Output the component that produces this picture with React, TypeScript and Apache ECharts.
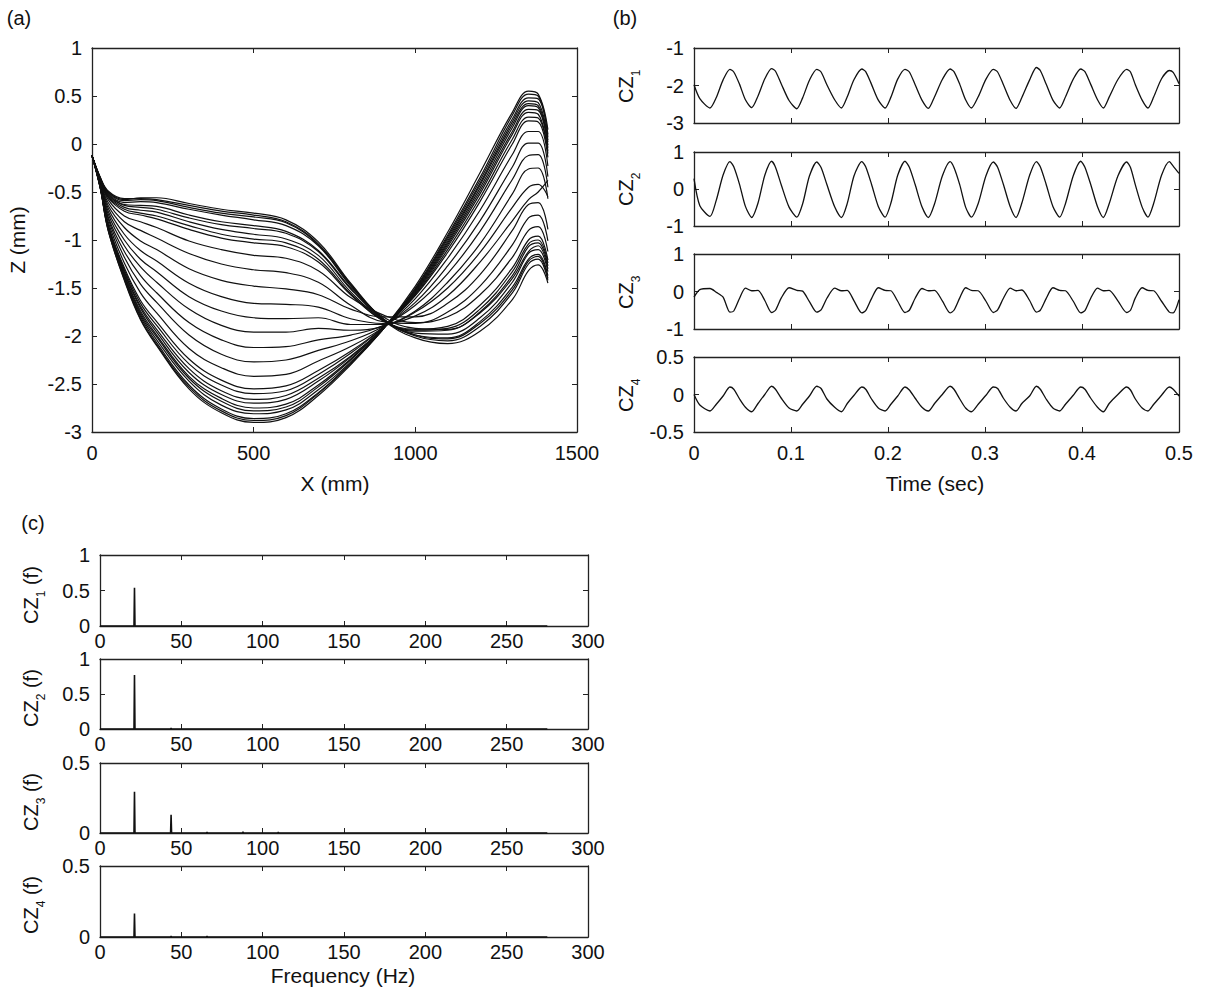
import React, { useEffect, useRef } from "react";
import * as echarts from "echarts";

const FONT = "'Liberation Sans', Arial, Helvetica, sans-serif";
const INK = "#111111";
const AXIS = "#222222";

// ---------- Panel (a): profile curves Z (mm) vs X (mm) ----------
const profileX = [0, 25, 50, 100, 150, 200, 300, 400, 500, 600, 700, 800, 900, 1000, 1100, 1200, 1300, 1350, 1380, 1410];
const profileZ: number[][] = [
  [-0.12, -0.35, -0.50, -0.58, -0.56, -0.56, -0.62, -0.68, -0.72, -0.79, -1.02, -1.45, -1.82, -2.00, -2.05, -1.90, -1.55, -1.25, -1.20, -1.42],
  [-0.12, -0.34, -0.49, -0.57, -0.57, -0.58, -0.64, -0.70, -0.74, -0.81, -1.04, -1.46, -1.83, -2.02, -2.08, -1.95, -1.62, -1.32, -1.26, -1.45],
  [-0.12, -0.35, -0.50, -0.59, -0.58, -0.59, -0.66, -0.72, -0.76, -0.82, -1.05, -1.47, -1.82, -1.99, -2.03, -1.87, -1.52, -1.22, -1.17, -1.40],
  [-0.12, -0.35, -0.51, -0.61, -0.60, -0.61, -0.68, -0.74, -0.79, -0.85, -1.06, -1.48, -1.82, -1.99, -2.02, -1.85, -1.49, -1.20, -1.15, -1.37],
  [-0.12, -0.36, -0.52, -0.63, -0.64, -0.65, -0.74, -0.81, -0.85, -0.91, -1.11, -1.50, -1.83, -1.97, -1.98, -1.81, -1.44, -1.14, -1.10, -1.33],
  [-0.12, -0.36, -0.53, -0.64, -0.66, -0.68, -0.77, -0.84, -0.88, -0.93, -1.12, -1.51, -1.80, -1.92, -1.93, -1.76, -1.40, -1.12, -1.06, -1.30],
  [-0.12, -0.36, -0.54, -0.66, -0.69, -0.71, -0.81, -0.89, -0.94, -0.99, -1.16, -1.54, -1.83, -1.95, -1.94, -1.75, -1.37, -1.07, -1.03, -1.27],
  [-0.12, -0.36, -0.55, -0.68, -0.72, -0.75, -0.85, -0.94, -0.99, -1.03, -1.20, -1.56, -1.84, -1.94, -1.92, -1.72, -1.33, -1.04, -1.00, -1.24],
  [-0.12, -0.36, -0.56, -0.70, -0.74, -0.78, -0.89, -0.98, -1.03, -1.07, -1.23, -1.57, -1.84, -1.93, -1.90, -1.68, -1.29, -1.00, -0.96, -1.21],
  [-0.12, -0.37, -0.58, -0.75, -0.81, -0.87, -1.01, -1.10, -1.16, -1.19, -1.32, -1.60, -1.78, -1.86, -1.80, -1.57, -1.18, -0.90, -0.86, -1.12],
  [-0.12, -0.38, -0.61, -0.81, -0.90, -0.98, -1.14, -1.25, -1.31, -1.34, -1.44, -1.68, -1.85, -1.87, -1.75, -1.48, -1.05, -0.77, -0.74, -1.01],
  [-0.12, -0.39, -0.64, -0.87, -1.01, -1.10, -1.30, -1.42, -1.48, -1.51, -1.57, -1.72, -1.80, -1.80, -1.66, -1.36, -0.90, -0.63, -0.61, -0.89],
  [-0.12, -0.39, -0.67, -0.94, -1.11, -1.22, -1.45, -1.59, -1.66, -1.67, -1.70, -1.82, -1.87, -1.79, -1.58, -1.23, -0.80, -0.58, -0.50, -0.38],
  [-0.12, -0.40, -0.70, -1.00, -1.20, -1.33, -1.59, -1.74, -1.81, -1.82, -1.81, -1.88, -1.88, -1.75, -1.50, -1.13, -0.66, -0.45, -0.42, -0.55],
  [-0.12, -0.41, -0.73, -1.06, -1.28, -1.44, -1.72, -1.89, -1.96, -1.96, -1.92, -1.94, -1.90, -1.74, -1.44, -1.04, -0.52, -0.26, -0.25, -0.57],
  [-0.12, -0.41, -0.76, -1.12, -1.37, -1.55, -1.86, -2.04, -2.12, -2.11, -2.04, -1.99, -1.89, -1.68, -1.35, -0.91, -0.37, -0.12, -0.11, -0.45],
  [-0.12, -0.42, -0.78, -1.18, -1.46, -1.65, -1.99, -2.19, -2.27, -2.25, -2.15, -2.05, -1.90, -1.65, -1.27, -0.80, -0.24, 0.01, 0.01, -0.34],
  [-0.12, -0.43, -0.81, -1.24, -1.55, -1.76, -2.13, -2.33, -2.42, -2.40, -2.26, -2.11, -1.91, -1.61, -1.19, -0.69, -0.11, 0.13, 0.13, -0.23],
  [-0.12, -0.43, -0.84, -1.29, -1.63, -1.85, -2.24, -2.46, -2.55, -2.52, -2.36, -2.16, -1.91, -1.58, -1.13, -0.60, 0.00, 0.24, 0.23, -0.14],
  [-0.12, -0.43, -0.85, -1.31, -1.66, -1.89, -2.29, -2.51, -2.60, -2.57, -2.40, -2.18, -1.91, -1.57, -1.10, -0.56, 0.05, 0.28, 0.27, -0.10],
  [-0.12, -0.44, -0.86, -1.33, -1.69, -1.93, -2.34, -2.57, -2.66, -2.62, -2.44, -2.21, -1.92, -1.56, -1.07, -0.52, 0.10, 0.33, 0.31, -0.07],
  [-0.12, -0.44, -0.86, -1.34, -1.71, -1.96, -2.38, -2.61, -2.70, -2.66, -2.47, -2.22, -1.92, -1.55, -1.05, -0.49, 0.13, 0.36, 0.35, -0.04],
  [-0.12, -0.44, -0.87, -1.36, -1.74, -1.99, -2.42, -2.65, -2.75, -2.71, -2.51, -2.24, -1.92, -1.54, -1.03, -0.46, 0.17, 0.40, 0.38, -0.01],
  [-0.12, -0.44, -0.87, -1.37, -1.76, -2.01, -2.44, -2.68, -2.78, -2.74, -2.53, -2.25, -1.92, -1.53, -1.01, -0.43, 0.20, 0.42, 0.40, 0.02],
  [-0.12, -0.45, -0.88, -1.39, -1.78, -2.04, -2.47, -2.72, -2.81, -2.77, -2.56, -2.27, -1.93, -1.52, -0.99, -0.41, 0.23, 0.45, 0.43, 0.04],
  [-0.12, -0.45, -0.89, -1.40, -1.80, -2.07, -2.51, -2.76, -2.86, -2.81, -2.59, -2.28, -1.93, -1.51, -0.97, -0.38, 0.26, 0.48, 0.47, 0.07],
  [-0.12, -0.45, -0.90, -1.41, -1.82, -2.09, -2.53, -2.78, -2.88, -2.83, -2.60, -2.29, -1.93, -1.48, -0.92, -0.30, 0.33, 0.55, 0.52, 0.15],
  [-0.12, -0.45, -0.90, -1.42, -1.83, -2.10, -2.55, -2.80, -2.90, -2.85, -2.62, -2.30, -1.93, -1.50, -0.95, -0.35, 0.30, 0.52, 0.50, 0.10],
];

// ---------- Panel (b): modal coordinates vs time ----------
const timeSec = [
  0, 0.006, 0.0165, 0.023, 0.030, 0.037, 0.041, 0.047, 0.053,
  0.0595, 0.066, 0.073, 0.080, 0.084, 0.090, 0.098,
  0.106, 0.112, 0.119, 0.1265, 0.131, 0.137, 0.145,
  0.152, 0.158, 0.165, 0.173, 0.177, 0.183, 0.190,
  0.197, 0.203, 0.210, 0.2175, 0.222, 0.228, 0.235,
  0.2416, 0.248, 0.256, 0.264, 0.268, 0.274, 0.280,
  0.286, 0.293, 0.301, 0.3086, 0.313, 0.319, 0.326,
  0.332, 0.338, 0.346, 0.353, 0.357, 0.363, 0.370,
  0.377, 0.383, 0.391, 0.3987, 0.403, 0.409, 0.416,
  0.422, 0.428, 0.437, 0.446, 0.450, 0.455, 0.462,
  0.468, 0.474, 0.482, 0.490, 0.494, 0.500,
];
const cz1 = [
  -1.98, -2.35, -2.60, -2.32, -1.85, -1.57, -1.64, -1.97, -2.38,
  -2.59, -2.28, -1.82, -1.55, -1.62, -1.96, -2.40,
  -2.62, -2.33, -1.86, -1.57, -1.64, -1.98, -2.38,
  -2.60, -2.30, -1.84, -1.56, -1.63, -1.97, -2.39,
  -2.60, -2.31, -1.83, -1.57, -1.64, -1.98, -2.39,
  -2.61, -2.30, -1.84, -1.56, -1.63, -1.97, -2.38,
  -2.60, -2.30, -1.83, -1.57, -1.64, -1.98, -2.40,
  -2.61, -2.32, -1.85, -1.52, -1.60, -1.96, -2.39,
  -2.60, -2.30, -1.83, -1.56, -1.63, -1.97, -2.38,
  -2.60, -2.31, -1.84, -1.57, -1.64, -1.98, -2.39,
  -2.60, -2.30, -1.82, -1.60, -1.65, -1.95,
];
const cz2 = [
  0.28, -0.45, -0.74, -0.30, 0.38, 0.74, 0.60, 0.12, -0.47,
  -0.77, -0.38, 0.37, 0.75, 0.59, 0.11, -0.49,
  -0.76, -0.40, 0.35, 0.73, 0.58, 0.12, -0.48,
  -0.77, -0.39, 0.36, 0.74, 0.60, 0.13, -0.47,
  -0.76, -0.38, 0.37, 0.75, 0.59, 0.12, -0.48,
  -0.77, -0.40, 0.35, 0.74, 0.58, 0.11, -0.49,
  -0.76, -0.39, 0.36, 0.73, 0.59, 0.12, -0.48,
  -0.77, -0.38, 0.37, 0.74, 0.60, 0.13, -0.47,
  -0.76, -0.39, 0.36, 0.75, 0.59, 0.12, -0.48,
  -0.77, -0.40, 0.35, 0.73, 0.58, 0.11, -0.49,
  -0.76, -0.38, 0.37, 0.74, 0.62, 0.42,
];
const cz3 = [
  -0.15, 0.05, 0.08, -0.02, -0.15, -0.55, -0.52, -0.18, 0.09,
  0.02, 0.03, -0.24, -0.56, -0.50, -0.17, 0.10,
  0.03, 0.01, -0.27, -0.55, -0.49, -0.18, 0.09,
  0.02, 0.03, -0.25, -0.57, -0.51, -0.19, 0.10,
  0.03, 0.02, -0.26, -0.56, -0.50, -0.18, 0.08,
  0.02, 0.03, -0.25, -0.57, -0.50, -0.17, 0.10,
  0.03, 0.02, -0.26, -0.56, -0.49, -0.18, 0.09,
  0.02, 0.04, -0.24, -0.55, -0.50, -0.19, 0.10,
  0.03, 0.02, -0.26, -0.57, -0.51, -0.18, 0.09,
  0.02, 0.03, -0.25, -0.56, -0.50, -0.17, 0.10,
  0.03, 0.02, -0.26, -0.55, -0.57, -0.22,
];
const cz4 = [
  0.00, -0.14, -0.22, -0.13, -0.02, 0.10, 0.07, -0.06, -0.17,
  -0.23, -0.12, 0.00, 0.11, 0.07, -0.05, -0.18,
  -0.22, -0.13, -0.02, 0.11, 0.08, -0.06, -0.17,
  -0.23, -0.12, -0.01, 0.10, 0.07, -0.06, -0.18,
  -0.22, -0.13, -0.02, 0.10, 0.06, -0.05, -0.17,
  -0.22, -0.12, 0.00, 0.11, 0.07, -0.06, -0.18,
  -0.23, -0.13, -0.01, 0.10, 0.08, -0.05, -0.17,
  -0.22, -0.12, -0.02, 0.11, 0.07, -0.06, -0.18,
  -0.22, -0.13, -0.01, 0.10, 0.07, -0.05, -0.17,
  -0.23, -0.12, 0.00, 0.10, 0.06, -0.06, -0.18,
  -0.22, -0.13, -0.01, 0.10, 0.07, -0.02,
];

// ---------- Panel (c): spectra ----------
const freqCZ1 = [0, 20.9, 21.2, 21.5, 275];
const ampCZ1 = [0, 0, 0.54, 0, 0];
const freqCZ2 = [0, 20.9, 21.2, 21.5, 43.4, 43.7, 44.0, 275];
const ampCZ2 = [0, 0, 0.77, 0, 0, 0.012, 0, 0];
const freqCZ3 = [0, 20.9, 21.2, 21.5, 43.4, 43.7, 44.0, 65.5, 65.8, 66.1, 87.6, 87.9, 88.2, 109.3, 109.6, 109.9, 275];
const ampCZ3 = [0, 0, 0.295, 0, 0, 0.13, 0, 0, 0.006, 0, 0, 0.008, 0, 0, 0.005, 0, 0];
const freqCZ4 = [0, 20.9, 21.2, 21.5, 43.4, 43.7, 44.0, 65.5, 65.8, 66.1, 275];
const ampCZ4 = [0, 0, 0.165, 0, 0, 0.005, 0, 0, 0.005, 0, 0];

// axis ranges per subplot: [min, max, interval]
const xRanges: [number, number, number][] = [
  [0, 1500, 500],
  [0, 0.5, 0.1], [0, 0.5, 0.1], [0, 0.5, 0.1], [0, 0.5, 0.1],
  [0, 300, 50], [0, 300, 50], [0, 300, 50], [0, 300, 50],
];
const yRanges: [number, number, number][] = [
  [-3, 1, 0.5],
  [-3, -1, 1], [-1, 1, 1], [-1, 1, 1], [-0.5, 0.5, 0.5],
  [0, 1, 0.5], [0, 1, 0.5], [0, 0.5, 0.5], [0, 0.5, 0.5],
];
const xLabelShown = [true, false, false, false, true, true, true, true, true];

function fmt(v: number) {
  return String(Math.round(v * 1000) / 1000);
}

function buildOption() {
  const grids = [
    { left: 92, top: 48, width: 485, height: 384 },
    { left: 694, top: 48, width: 485, height: 75 },
    { left: 694, top: 152, width: 485, height: 74 },
    { left: 694, top: 254, width: 485, height: 75 },
    { left: 694, top: 357, width: 485, height: 75 },
    { left: 100, top: 555, width: 488, height: 71 },
    { left: 100, top: 659, width: 488, height: 70 },
    { left: 100, top: 763, width: 488, height: 70 },
    { left: 100, top: 866, width: 488, height: 71 },
  ];
  const labelStyle = { color: INK, fontSize: 20, fontFamily: FONT, formatter: fmt };
  const xAxis: any[] = [];
  const yAxis: any[] = [];
  grids.forEach((_, g) => {
    const [xmin, xmax, xint] = xRanges[g];
    const [ymin, ymax, yint] = yRanges[g];
    const common = {
      type: "value",
      gridIndex: g,
      splitLine: { show: false },
      axisLine: { show: true, onZero: false, lineStyle: { color: AXIS, width: 1.3 } },
      axisTick: { show: true, inside: true, length: 5, lineStyle: { color: AXIS, width: 1 } },
    };
    xAxis.push({
      ...common, position: "bottom", min: xmin, max: xmax, interval: xint,
      axisLabel: { ...labelStyle, show: xLabelShown[g], margin: g >= 5 ? 5 : 11, showMinLabel: true, showMaxLabel: true },
    });
    xAxis.push({
      ...common, position: "top", min: xmin, max: xmax, interval: xint,
      axisLabel: { show: false },
    });
    yAxis.push({
      ...common, position: "left", min: ymin, max: ymax, interval: yint,
      axisLabel: { ...labelStyle, show: true, margin: 10, showMinLabel: true, showMaxLabel: true },
    });
    yAxis.push({
      ...common, position: "right", min: ymin, max: ymax, interval: yint,
      axisLabel: { show: false },
    });
  });

  const series: any[] = [];
  profileZ.forEach((curve, i) => {
    series.push({
      type: "line", name: "profile " + (i + 1), xAxisIndex: 0, yAxisIndex: 0,
      data: profileX.map((x, j) => [x, curve[j]]),
      showSymbol: false, smooth: 0.4, silent: true,
      lineStyle: { color: INK, width: 1.2 },
    });
  });
  [cz1, cz2, cz3, cz4].forEach((vals, k) => {
    const g = k + 1;
    series.push({
      type: "line", name: "CZ" + (k + 1), xAxisIndex: 2 * g, yAxisIndex: 2 * g,
      data: timeSec.map((t, j) => [t, vals[j]]),
      showSymbol: false, smooth: 0.25, silent: true,
      lineStyle: { color: INK, width: 1.3 },
    });
  });
  const spectra: [number[], number[]][] = [
    [freqCZ1, ampCZ1], [freqCZ2, ampCZ2], [freqCZ3, ampCZ3], [freqCZ4, ampCZ4],
  ];
  spectra.forEach(([fs, as], k) => {
    const g = k + 5;
    series.push({
      type: "line", name: "CZ" + (k + 1) + " (f)", xAxisIndex: 2 * g, yAxisIndex: 2 * g,
      data: fs.map((f, j) => [f, as[j]]),
      showSymbol: false, silent: true,
      lineStyle: { color: INK, width: 1.6 },
    });
  });

  const txt = (text: string, x: number, y: number, size = 20) => ({
    type: "text", x, y, silent: true,
    style: { text, fill: INK, fontSize: size, fontFamily: FONT, align: "center", verticalAlign: "middle" },
  });
  const vtxt = (text: string, x: number, y: number, size: number) => ({
    type: "text", x, y, rotation: Math.PI / 2, silent: true,
    style: { text, fill: INK, fontSize: size, fontFamily: FONT, align: "left", verticalAlign: "middle" },
  });
  // rotated "CZ" + subscript (+ optional " (f)"), starting at bottom (x, yBottom)
  const czName = (n: number, f: boolean, x: number, yBottom: number) => {
    const mainLen = 26.7;
    const subLen = 6.7;
    const els: any[] = [
      vtxt("CZ", x, yBottom, 20),
      vtxt(String(n), x + 10, yBottom - mainLen, 12),
    ];
    if (f) els.push(vtxt(" (f)", x, yBottom - mainLen - subLen, 20));
    return els;
  };

  const graphic: any[] = [
    txt("(a)", 19, 18),
    txt("(b)", 625, 18),
    txt("(c)", 33, 523),
    txt("X (mm)", 335, 483, 21),
    txt("Time (sec)", 935, 483, 21),
    txt("Frequency (Hz)", 343, 975, 21),
    { ...txt("Z (mm)", 17, 240, 21), rotation: Math.PI / 2 },
    ...czName(1, false, 626, 103),
    ...czName(2, false, 626, 206),
    ...czName(3, false, 626, 309),
    ...czName(4, false, 626, 412),
    ...czName(1, true, 31, 624),
    ...czName(2, true, 31, 727),
    ...czName(3, true, 31, 831),
    ...czName(4, true, 31, 934),
  ];

  return {
    animation: false,
    backgroundColor: "#ffffff",
    grid: grids,
    xAxis,
    yAxis,
    series,
    graphic,
  };
}

export default function App() {
  const ref = useRef<HTMLDivElement>(null);
  useEffect(() => {
    if (!ref.current) return;
    const chart = echarts.init(ref.current, null, { renderer: "svg" });
    chart.setOption(buildOption() as any);
    return () => chart.dispose();
  }, []);
  return (
    <div
      ref={ref}
      style={{ position: "fixed", left: 0, top: 0, width: 1205, height: 995, background: "#fff" }}
    />
  );
}
